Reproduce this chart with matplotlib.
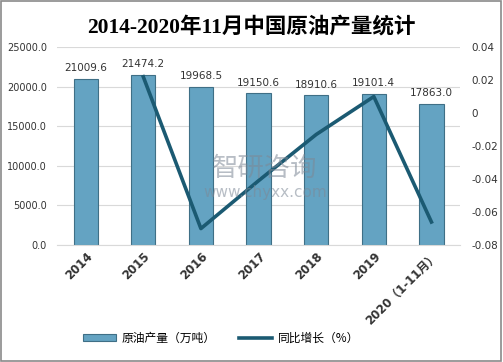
import matplotlib
matplotlib.use("Agg")
import matplotlib.pyplot as plt
from matplotlib.patches import Rectangle
import numpy as np

plt.rcParams['font.family'] = ['DejaVu Sans', 'Noto Sans CJK SC']

categories = ["2014", "2015", "2016", "2017", "2018", "2019", "2020（1-11月）"]
production = [21009.6, 21474.2, 19968.5, 19150.6, 18910.6, 19101.4, 17863.0]
growth = [None, 0.022, -0.070, -0.041, -0.013, 0.010, -0.066]
left_ticks = [0, 5000, 10000, 15000, 20000, 25000]
right_ticks = [-0.08, -0.06, -0.04, -0.02, 0, 0.02, 0.04]
right_labels = ["-0.08", "-0.06", "-0.04", "-0.02", "0", "0.02", "0.04"]

fig = plt.figure(figsize=(5.03, 3.62), dpi=100)
fig.patches.append(Rectangle((0.002, 0.003), 0.995, 0.994, transform=fig.transFigure,
                             fill=False, edgecolor="#8a8a8a", linewidth=1.2))

ax = fig.add_axes([0.113, 0.323, 0.802, 0.547])
x = np.arange(len(categories))
ax.bar(x, production, width=0.42, color="#64a3c2", edgecolor="#3f6f86", linewidth=0.8, zorder=2,
       label="原油产量（万吨）")
for xi, v in zip(x, production):
    ax.text(xi, v + 700, f"{v:.1f}", ha="center", va="bottom", fontsize=7.5, color="#333333")

ax.set_xlim(-0.5, len(categories) - 0.5)
ax.set_ylim(0, 25000)
ax.set_yticks(left_ticks)
ax.set_yticklabels([f"{t:.1f}" for t in left_ticks], fontsize=7, color="#333333")
ax.yaxis.grid(True, color="#d9d9d9", linewidth=0.8, zorder=0)
ax.set_axisbelow(True)
for s in ["left", "right", "top"]:
    ax.spines[s].set_visible(False)
ax.spines["bottom"].set_color("#d9d9d9")
ax.tick_params(axis="both", length=0)
ax.tick_params(axis="y", pad=7)
ax.set_xticks(x)
ax.set_xticklabels(categories, rotation=45, ha="right", rotation_mode="anchor",
                   fontsize=8.5, fontweight="bold", color="#333333")

ax2 = ax.twinx()
gx = [xi for xi, g in zip(x, growth) if g is not None]
gy = [g for g in growth if g is not None]
ax2.plot(gx, gy, color="#1b5a72", linewidth=2.6, zorder=3, label="同比增长（%）")
ax2.set_ylim(-0.08, 0.04)
ax2.set_yticks(right_ticks)
ax2.set_yticklabels(right_labels, fontsize=7.5, color="#333333")
ax2.tick_params(axis="y", length=0, pad=8)
for s in ["left", "right", "top", "bottom"]:
    ax2.spines[s].set_visible(False)

fig.text(0.5, 0.925, "2014-2020年11月中国原油产量统计", ha="center", va="center",
         fontsize=15.5, fontweight="bold", family=["Liberation Serif", "Noto Sans CJK SC"])

fig.text(0.527, 0.536, "智研咨询", ha="center", va="center", fontsize=19, color="#7d8896",
         alpha=0.55, family=["Noto Sans CJK SC"], zorder=5)
fig.text(0.527, 0.467, "www.chyxx.com", ha="center", va="center", fontsize=11, color="#7d8896",
         alpha=0.55, zorder=5)

h1, l1 = ax.get_legend_handles_labels()
h2, l2 = ax2.get_legend_handles_labels()
fig.legend(h1 + h2, l1 + l2, loc="center", bbox_to_anchor=(0.44, 0.066), ncol=2,
           frameon=False, prop={"family": ["Noto Sans CJK SC"], "size": 8.5},
           handlelength=2.8, handleheight=0.6, handletextpad=0.5, columnspacing=2.0)

fig.savefig("out.png", dpi=100)
